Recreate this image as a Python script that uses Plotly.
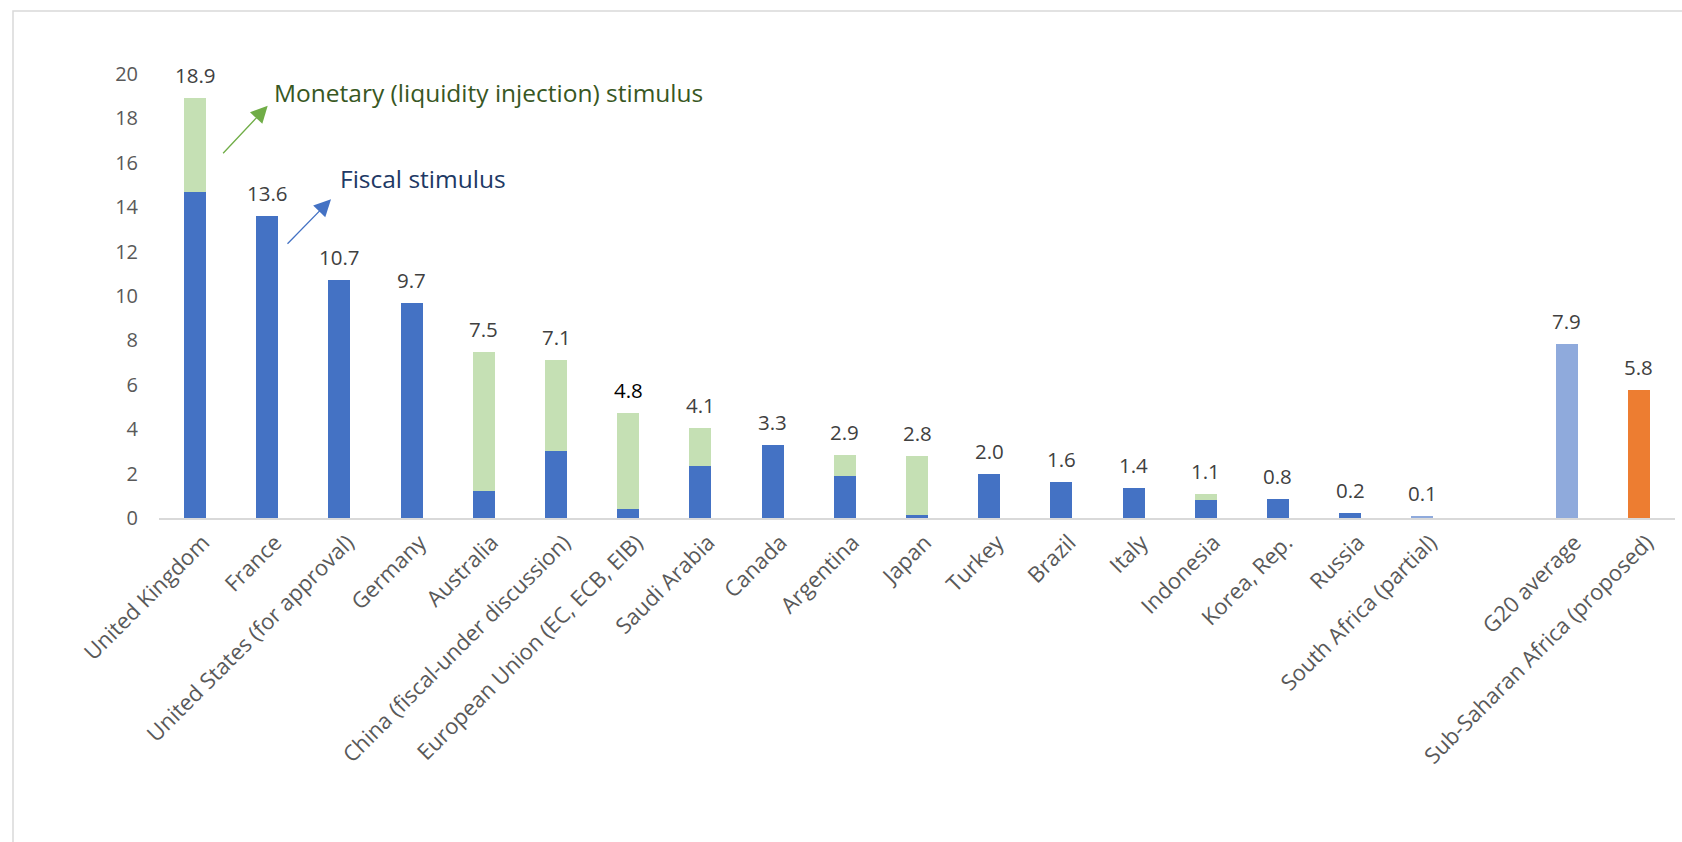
import plotly.graph_objects as go

# ---------------- data ----------------
countries = ["United Kingdom", "France", "United States (for approval)", "Germany",
             "Australia", "China (fiscal-under discussion)", "European Union (EC, ECB, EIB)",
             "Saudi Arabia", "Canada", "Argentina", "Japan", "Turkey", "Brazil", "Italy",
             "Indonesia", "Korea, Rep.", "Russia", "South Africa (partial)"]
fiscal = [14.7, 13.6, 10.7, 9.7, 1.2, 3.0, 0.4, 2.35, 3.3, 1.9, 0.15, 2.0, 1.6, 1.35,
          0.8, 0.85, 0.24, 0.1]
monetary = [4.2, 0, 0, 0, 6.3, 4.1, 4.35, 1.7, 0, 0.95, 2.65, 0, 0, 0, 0.3, 0, 0, 0]
country_labels = [18.9, 13.6, 10.7, 9.7, 7.5, 7.1, 4.8, 4.1, 3.3, 2.9, 2.8, 2.0, 1.6, 1.4,
                  1.1, 0.8, 0.2, 0.1]

summary_categories = ["G20 average", "Sub-Saharan Africa (proposed)"]
summary_values = [7.85, 5.77]
summary_labels = [7.9, 5.8]

# ---------------- styles ----------------
FONT = "Open Sans"
FISCAL_C = "#4472C4"
MONETARY_C = "#C5E0B4"
G20_C = "#8FAADC"
SSA_C = "#ED7D31"
BAR_W = 0.305

n = len(countries)
x_countries = list(range(n))
gap = 1
x_summary = [n + gap + i for i in range(len(summary_categories))]
tick_vals = x_countries + x_summary
tick_text = countries + summary_categories

fiscal_colors = [FISCAL_C] * n
fiscal_colors[-1] = G20_C  # tiny partial bar rendered pale

fig = go.Figure()
fig.add_trace(go.Bar(x=x_countries, y=fiscal, width=BAR_W, marker_color=fiscal_colors,
                     marker_line_width=0, name="Fiscal stimulus"))
fig.add_trace(go.Bar(x=x_countries, y=monetary, width=BAR_W, marker_color=MONETARY_C,
                     marker_line_width=0, name="Monetary stimulus"))
fig.add_trace(go.Bar(x=x_summary, y=summary_values, width=BAR_W,
                     marker_color=[G20_C, SSA_C], marker_line_width=0, name="Summary"))

annotations = []
tops = [f + m for f, m in zip(fiscal, monetary)] + summary_values
labels = country_labels + summary_labels
for i, (xv, top, lab) in enumerate(zip(tick_vals, tops, labels)):
    annotations.append(dict(
        x=xv, y=top, xref="x", yref="y", text=f"{lab:.1f}", showarrow=False,
        yanchor="bottom", yshift=7,
        font=dict(family=FONT, size=20.5, color="#000000" if i == 6 else "#404040")))

# callouts
annotations += [
    dict(x=1.07, y=19.15, xref="x", yref="y", text="Monetary (liquidity injection) stimulus",
         showarrow=False, xanchor="left", yanchor="middle",
         font=dict(family=FONT, size=24.5, color="#385723")),
    dict(x=1.98, y=15.3, xref="x", yref="y", text="Fiscal stimulus",
         showarrow=False, xanchor="left", yanchor="middle",
         font=dict(family=FONT, size=24.5, color="#203864")),
    dict(x=1.006, y=18.57, xref="x", yref="y", text="", showarrow=True,
         ax=-46, ay=49, arrowhead=2, arrowsize=2.6, arrowwidth=1.3, arrowcolor="#70AD47"),
    dict(x=1.883, y=14.36, xref="x", yref="y", text="", showarrow=True,
         ax=-45, ay=46, arrowhead=2, arrowsize=2.6, arrowwidth=1.3, arrowcolor="#4472C4"),
]

fig.update_layout(
    width=1682, height=842,
    barmode="stack", showlegend=False, bargap=0,
    paper_bgcolor="white", plot_bgcolor="white",
    margin=dict(l=159, r=7, t=74, b=324, pad=0),
    font=dict(family=FONT, size=20, color="#595959"),
    annotations=annotations,
    shapes=[dict(type="rect", xref="paper", yref="paper",
                 x0=(13 - 159) / 1516, x1=1.2, y0=-2, y1=(518 - 11) / 444,
                 line=dict(color="#D9D9D9", width=1.5), fillcolor="rgba(0,0,0,0)",
                 layer="below")],
)
fig.update_xaxes(range=[-0.5, 20.5], tickmode="array", tickvals=tick_vals,
                 ticktext=tick_text, tickangle=-45, showline=True, linecolor="#D9D9D9",
                 linewidth=2, ticks="", showgrid=False, zeroline=False, automargin=False,
                 tickfont=dict(family=FONT, size=22, color="#595959"),
                 ticklabelstandoff=1, ticklabelshift=8)
fig.update_yaxes(range=[0, 20], dtick=2, showline=False, showgrid=False, zeroline=False,
                 ticks="", automargin=False, ticklabelstandoff=20,
                 tickfont=dict(family=FONT, size=20, color="#595959"))

fig.write_html("out.html", config={"displayModeBar": False},
               post_script="document.body.style.margin='0';document.body.style.overflow='hidden';")
